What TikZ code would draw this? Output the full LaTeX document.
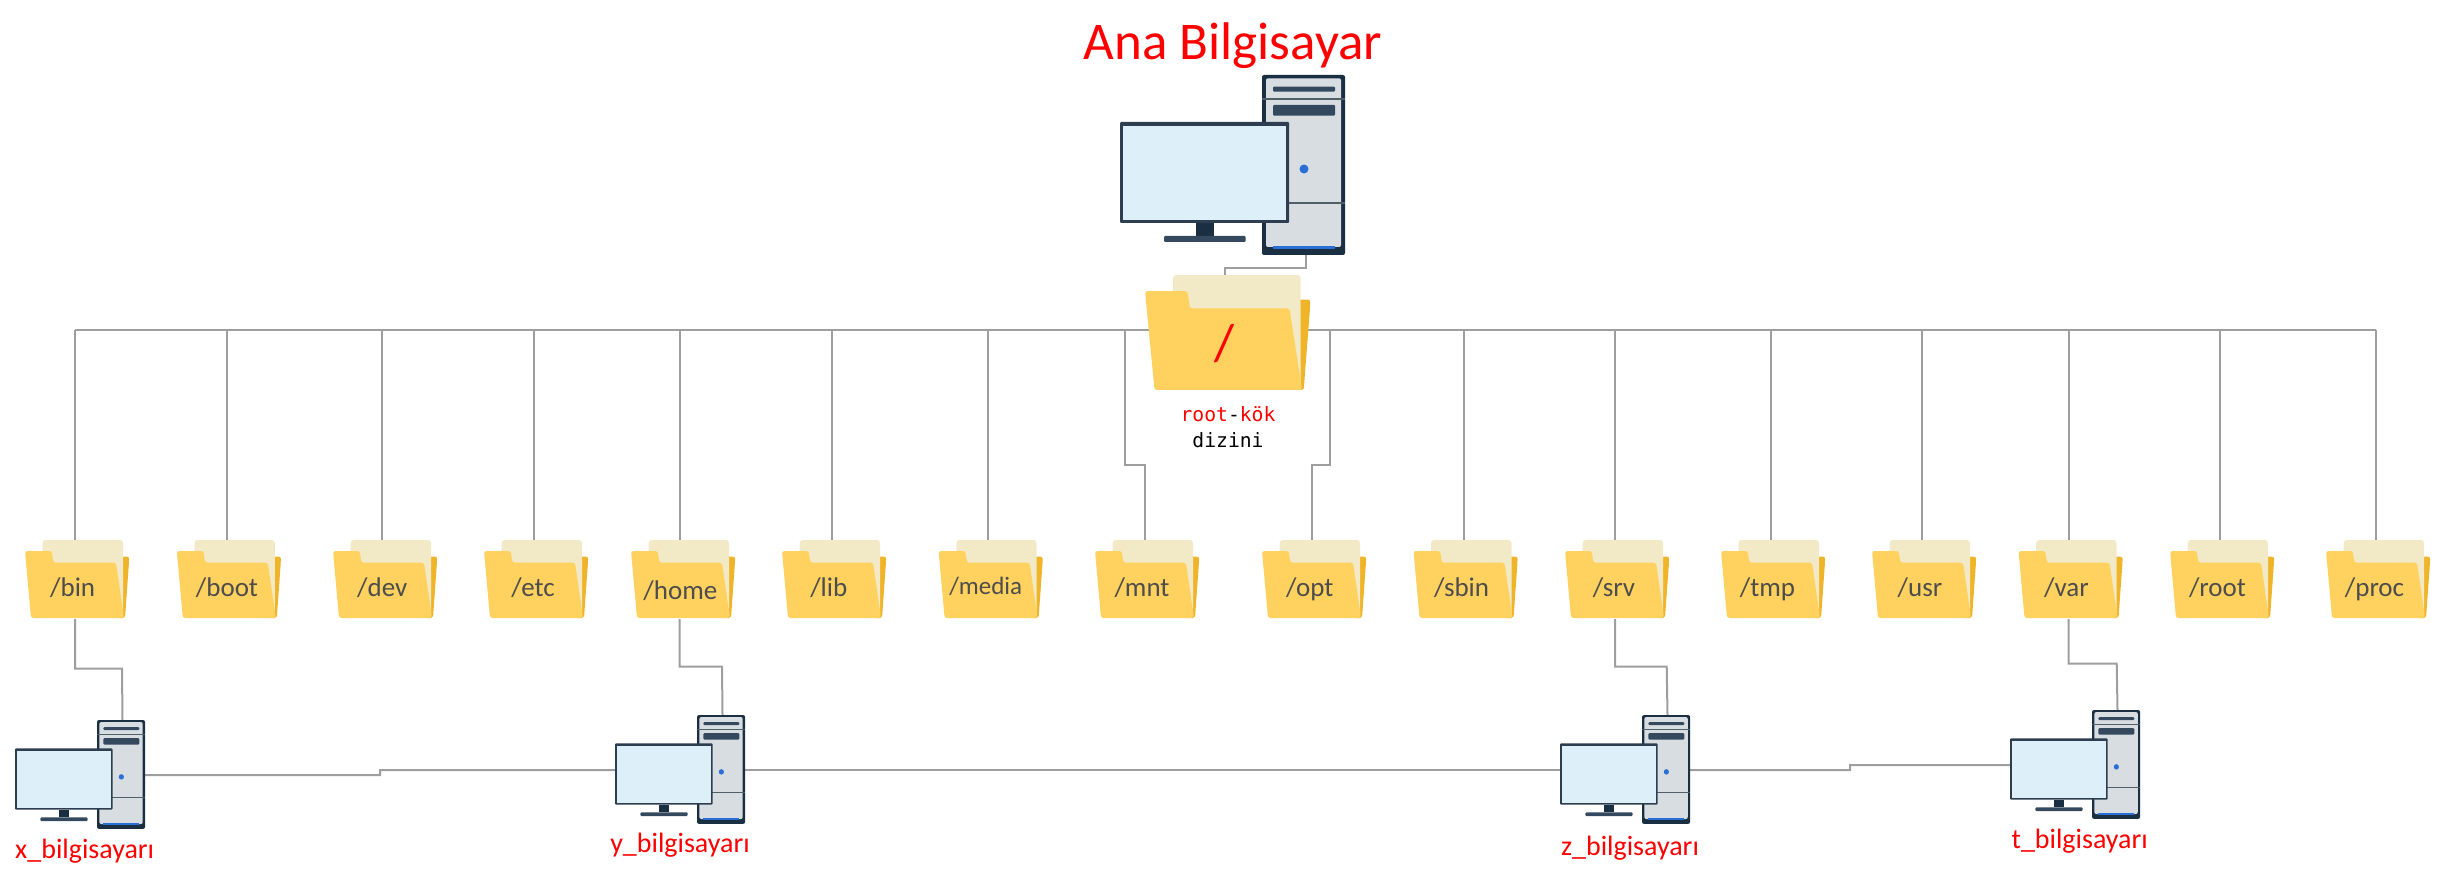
\documentclass[tikz,border=0pt]{standalone}
\usepackage{fontspec}
\setmainfont{Carlito}
\setmonofont{DejaVu Sans Mono}
\pgfdeclarelayer{links}
\pgfsetlayers{links,main}
\definecolor{fronty}{HTML}{FFD15F}
\definecolor{papery}{HTML}{F2E9C6}
\definecolor{backy}{HTML}{F0B429}
\definecolor{linkc}{HTML}{9E9E9E}
\definecolor{towerd}{HTML}{1A2F42}
\definecolor{towerl}{HTML}{D8DDE2}
\definecolor{barc}{HTML}{34495E}
\definecolor{sepc}{HTML}{4F6069}
\definecolor{ledc}{HTML}{2A6FD6}
\definecolor{screenc}{HTML}{DDF0FA}
\definecolor{framec}{HTML}{2C3E50}
\definecolor{labelc}{HTML}{4D4D4D}
\tikzset{
  link/.style={draw=linkc,line width=2pt},
  lbl/.style={anchor=base,inner sep=0pt,outer sep=0pt},
  redlbl/.style={lbl,text=red,font=\fontsize{28}{32}\selectfont},
}
% drawing of a folder in a 104 x 78 box, origin top left
\newcommand{\foldershape}{%
  \fill[backy,rounded corners=2pt] (92,16.7) -- (104,16.7) -- (104,22) -- (100,78) -- (92,78) -- cycle;
  \fill[papery,rounded corners=3pt] (17.7,0) -- (98,0) -- (98,76) -- (30,76) -- (17.7,30) -- cycle;
  \fill[fronty,rounded corners=2.5pt] (0,11) -- (26.7,11) -- (28.3,22.7) -- (91,22.7) -- (99,78) -- (6,78) -- cycle;
}
% \folderbox{name}{left}{line x}{label x}{baseline}{size}{text}
\newcommand{\folderbox}[7]{%
  \begin{scope}[shift={(#2,540)}]\foldershape\end{scope}
  \coordinate (#1-t) at (#3,542);
  \coordinate (#1-b) at (#3,619);
  \node[lbl,text=labelc,font=\fontsize{#6}{#6}\selectfont] (#1) at (#4,#5) {#7};
}
% \computer{name}{left}{top}{xscale}{yscale}
\newcommand{\computer}[5]{%
  \begin{scope}[shift={(#2,#3)},xscale=#4,yscale=#5]
    \fill[towerd,rounded corners=2pt] (142,0) rectangle (225,180);
    \fill[towerl,rounded corners=2pt] (146,3.3) rectangle (221,172);
    \fill[barc,rounded corners=1pt] (153,11.7) rectangle (215,16.7);
    \fill[barc,rounded corners=1pt] (153,30) rectangle (215,40.7);
    \fill[sepc] (142,23.3) rectangle (225,24.7);
    \fill[sepc] (142,127.3) rectangle (225,128.7);
    \fill[ledc] (184,94) ellipse (4.5 and 4.5);
    \fill[ledc] (153,171) rectangle (215,174);
    \fill[framec,rounded corners=1pt] (0,47) rectangle (169,148);
    \fill[screenc] (3.3,51) rectangle (166,145);
    \fill[towerd] (75.7,148) rectangle (94,161);
    \fill[barc,rounded corners=1pt] (44,161) rectangle (125.7,167);
    \coordinate (#1-t) at (186,1);
    \coordinate (#1-b) at (186,179);
    \coordinate (#1-r) at (224,91);
    \coordinate (#1-l) at (1,91);
  \end{scope}
}
\begin{document}
\begin{tikzpicture}[x=1pt,y=-1pt]
\useasboundingbox (0,0) rectangle (2440,877);
% title
\node[lbl,text=red,font=\fontsize{53}{60}\selectfont] (title) at (1233,60) {Ana Bilgisayar};
% main computer and root folder
\computer{main}{1120}{75}{1}{1}
\begin{scope}[shift={(1145,275)},xscale=1.587,yscale=1.474]\foldershape\end{scope}
\coordinate (root-t) at (1225,277);
\node[lbl,text=red,font=\fontsize{52}{52}\selectfont] (rootslash) at (1225,360) {/};
\node[lbl,font=\fontsize{19.7}{24}\ttfamily] (roottxt) at (1228,421.7) {\textcolor{red}{root}-\textcolor{red}{kök}};
\node[lbl,font=\fontsize{19.7}{24}\ttfamily] (roottxtb) at (1228,447.3) {dizini};
% folders
\folderbox{bin}{25}{75}{72.7}{596}{27}{/bin}
\folderbox{boot}{176.8}{226.5}{227}{596}{27}{/boot}
\folderbox{dev}{333}{382}{382.3}{596}{27}{/dev}
\folderbox{etc}{484}{533.5}{533}{596}{27}{/etc}
\folderbox{home}{631}{679.5}{680.4}{599}{27}{/home}
\folderbox{lib}{782}{831.5}{828.8}{596}{27}{/lib}
\folderbox{media}{938.6}{988}{985.7}{594}{25}{/media}
\folderbox{mnt}{1095}{1144.7}{1142}{596}{27}{/mnt}
\folderbox{opt}{1262}{1311.5}{1309.7}{596}{27}{/opt}
\folderbox{sbin}{1413.5}{1464}{1461.6}{596}{27}{/sbin}
\folderbox{srv}{1565}{1615}{1614}{596}{27}{/srv}
\folderbox{tmp}{1721}{1771}{1767.5}{596}{27}{/tmp}
\folderbox{usr}{1872}{1922}{1920}{596}{27}{/usr}
\folderbox{var}{2018.5}{2068.5}{2066.4}{596}{27}{/var}
\folderbox{rootd}{2170}{2219.5}{2217.5}{596}{27}{/root}
\folderbox{proc}{2326}{2376}{2374.5}{596}{27}{/proc}
% small computers
\computer{cx}{15}{720}{0.578}{0.605}
\computer{cy}{615}{715}{0.578}{0.605}
\computer{cz}{1560}{715}{0.578}{0.605}
\computer{ct}{2010}{710}{0.578}{0.605}
\node[redlbl] (lx) at (84.7,858) {x\_bilgisayarı};
\node[redlbl] (ly) at (680,852) {y\_bilgisayarı};
\node[redlbl] (lz) at (1630,855.7) {z\_bilgisayarı};
\node[redlbl] (lt) at (2079.7,848) {t\_bilgisayarı};
% connectors
\coordinate (bus) at (1228,330);
\coordinate (mntbend) at (1125,465);
\coordinate (optbend) at (1330,465);
\coordinate (stepa) at (380,775);
\coordinate (stepb) at (1850,770);
\begin{pgfonlayer}{links}
  \draw[link] (main-b) -- ++(0,-14pt) -| (root-t);
  \draw[link] (bin-t |- bus) -- (proc-t |- bus);
  \foreach \f in {bin,boot,dev,etc,home,lib,media,sbin,srv,tmp,usr,var,rootd,proc}
    \draw[link] (\f-t) -- (\f-t |- bus);
  \draw[link] (mntbend |- bus) -- (mntbend) -| (mnt-t);
  \draw[link] (optbend |- bus) -- (optbend) -| (opt-t);
  \draw[link] (bin-b) |- (122,668.7) -- (cx-t);
  \draw[link] (home-b) |- (722,666.7) -- (cy-t);
  \draw[link] (srv-b) |- (1666.7,666.7) -- (cz-t);
  \draw[link] (var-b) |- (2116.7,663.7) -- (ct-t);
  \draw[link] (cx-r) -- (stepa) |- (cy-l);
  \draw[link] (cy-r) -- (cz-l);
  \draw[link] (cz-r) -- (stepb) |- (ct-l);
\end{pgfonlayer}
\end{tikzpicture}
\end{document}
